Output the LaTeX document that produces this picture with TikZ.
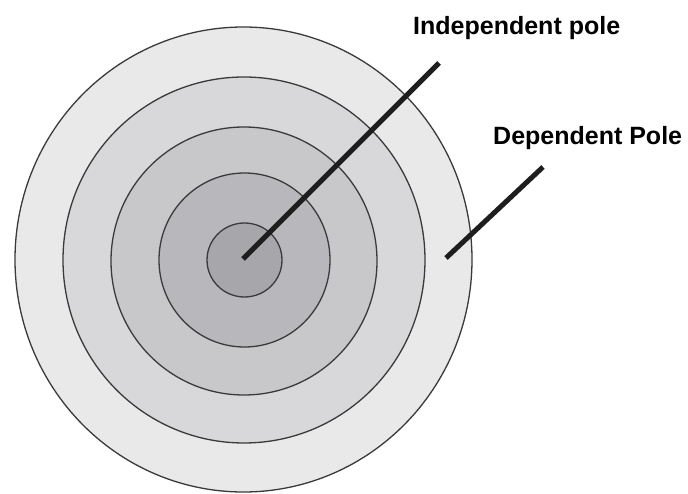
\documentclass[tikz,border=0pt]{standalone}
\usepackage{fontspec}
\setmainfont{Liberation Sans}
\definecolor{ringA}{HTML}{E9E9E9}
\definecolor{ringB}{HTML}{D8D8DA}
\definecolor{ringC}{HTML}{C8C8CB}
\definecolor{ringD}{HTML}{B8B8BC}
\definecolor{ringE}{HTML}{A6A6AB}
\definecolor{edge}{HTML}{3A3A3A}
\definecolor{pole}{HTML}{1E1E1E}
\begin{document}
\begin{tikzpicture}[x=1pt,y=-1pt,
  ring/.style={draw=edge,line width=1.3pt},
  poleline/.style={draw=pole,line width=5pt,line cap=butt},
  lbl/.style={font=\fontsize{25}{30}\selectfont\bfseries,inner sep=0pt,anchor=base west}]
\useasboundingbox (0,0) rectangle (688,494);
\fill[white] (0,0) rectangle (688,494);
\filldraw[ring,fill=ringA] (243.5,259.5) ellipse [x radius=228.5,y radius=232.5];
\filldraw[ring,fill=ringB] (244,260) ellipse [x radius=181,y radius=183];
\filldraw[ring,fill=ringC] (244,261) ellipse [x radius=133,y radius=134];
\filldraw[ring,fill=ringD] (244.5,260) ellipse [x radius=85.5,y radius=87];
\filldraw[ring,fill=ringE] (244.5,260) ellipse [x radius=37.5,y radius=37];
\coordinate (ic) at (243,259);
\coordinate (it) at (439,63);
\coordinate (dc) at (446,258);
\coordinate (dt) at (543,167);
\draw[poleline] (ic) -- (it);
\draw[poleline] (dc) -- (dt);
\node[lbl] (indep) at (413,35) {Independent pole};
\node[lbl] (dep) at (493,145) {Dependent Pole};
\end{tikzpicture}
\end{document}
